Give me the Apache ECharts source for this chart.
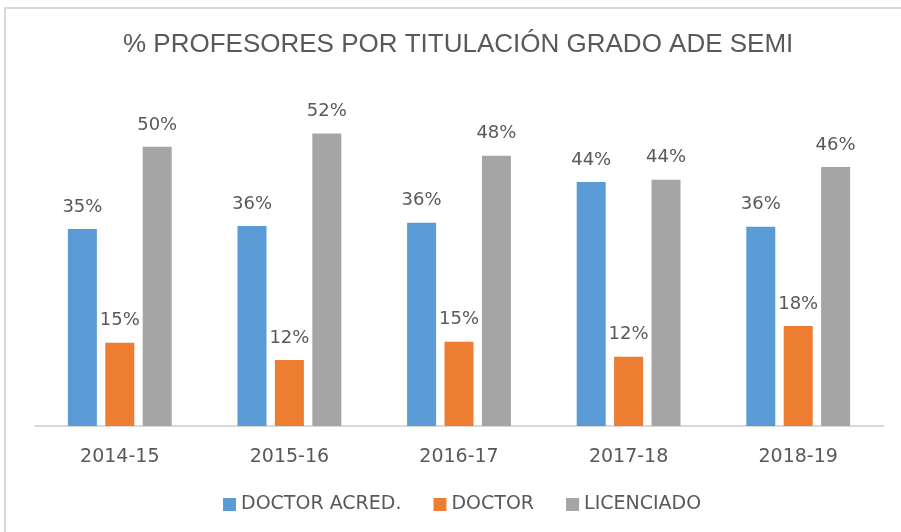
<!DOCTYPE html>
<html><head><meta charset="utf-8">
<script src="https://cdn.jsdelivr.net/npm/echarts@6/dist/echarts.min.js"></script>
<style>html,body{margin:0;padding:0;background:#fff}#c{width:901px;height:532px}</style>
</head><body><div id="c"></div>
<script>
const categories = ['2014-15','2015-16','2016-17','2017-18','2018-19'];
const doctorAcred = [35.3, 35.8, 36.4, 43.7, 35.7];
const doctor = [14.9, 11.8, 15.1, 12.4, 17.9];
const licenciado = [50.0, 52.4, 48.4, 44.1, 46.4];
const seriesNames = ['DOCTOR ACRED.', 'DOCTOR', 'LICENCIADO'];
const titleText = '% PROFESORES POR TITULACIÓN GRADO ADE SEMI';

const chart = echarts.init(document.getElementById('c'));
const labelCfg = {
  show: true, position: 'top', distance: 13,
  color: '#595959', fontFamily: 'DejaVu Sans', fontSize: 18,
  formatter: p => Math.round(p.value) + '%'
};
function mk(name, data, color) {
  return { name, type: 'bar', data, barWidth: 29, barGap: '29%',
    itemStyle: { color }, label: labelCfg, animation: false };
}
chart.setOption({
  animation: false,
  graphic: [{ type: 'rect', shape: { x: 5, y: 8, width: 1000, height: 1000 },
    style: { fill: 'none', stroke: '#D9D9D9', lineWidth: 2 }, silent: true }],
  title: { text: titleText, left: 118, top: 27,
    textStyle: { color: '#595959', fontFamily: 'Liberation Sans', fontSize: 26, fontWeight: 'normal' } },
  legend: { bottom: 13, left: 218, itemWidth: 13, itemHeight: 13, itemGap: 32,
    icon: 'rect',
    textStyle: { color: '#595959', fontFamily: 'DejaVu Sans', fontSize: 19, padding: [0,0,0,0] },
    data: seriesNames },
  grid: { left: 35, right: 18, top: 91, bottom: 106 },
  xAxis: { type: 'category', data: categories,
    axisLine: { lineStyle: { color: '#D9D9D9', width: 2 } },
    axisTick: { show: false },
    axisLabel: { color: '#595959', fontFamily: 'DejaVu Sans', fontSize: 19, margin: 22 } },
  yAxis: { type: 'value', min: 0, max: 60, show: false, splitLine: { show: false } },
  series: [
    mk(seriesNames[0], doctorAcred, '#5B9BD5'),
    mk(seriesNames[1], doctor, '#ED7D31'),
    mk(seriesNames[2], licenciado, '#A5A5A5')
  ]
});
</script></body></html>
